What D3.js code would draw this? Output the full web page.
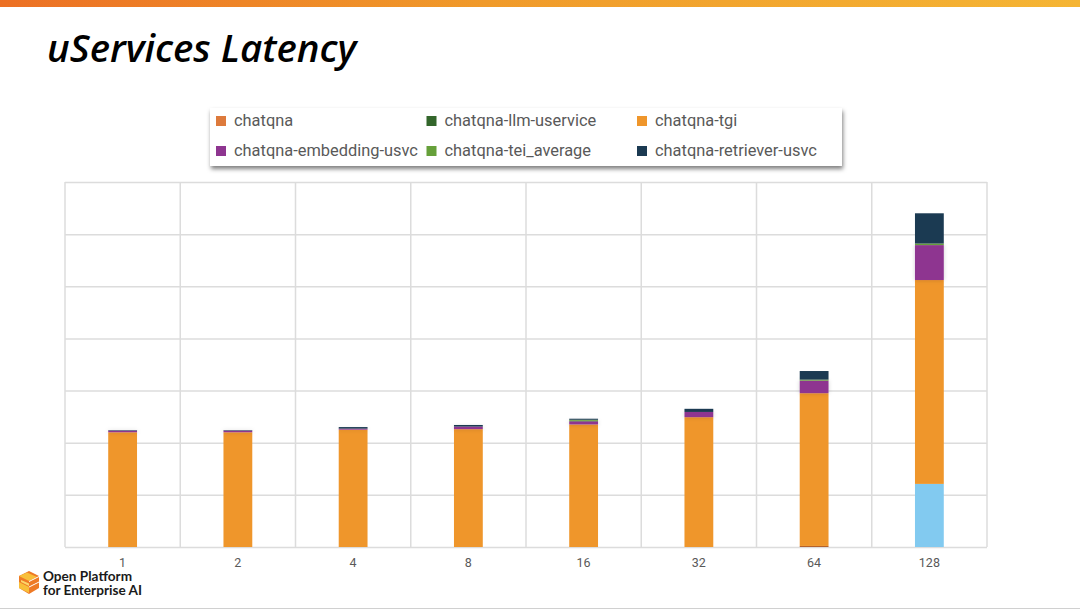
<!DOCTYPE html>
<meta charset="utf-8">
<style>
html, body { margin: 0; padding: 0; background: #fff; }
svg { display: block; }
.grid line, .grid path { stroke: #dcdcdc; stroke-width: 1.5px; }
.xaxis path, .xaxis line { stroke: none; }
.xaxis text { font: 12.5px Roboto, sans-serif; fill: #595959; }
.legend text { font: 16.4px Roboto, sans-serif; fill: #595959; }
.title { font: italic 600 38.5px "Open Sans", sans-serif; fill: #000; }
.logo text { font: 700 13.6px Lato, sans-serif; fill: #1a1a1a; }
</style>
<body>
<script src="https://d3js.org/d3.v7.min.js"></script>
<script>

const categories = ["1", "2", "4", "8", "16", "32", "64", "128"];

const chatqna          = [0, 0, 0, 0, 0, 0, 0.02, 0];
const unlisted         = [0, 0, 0, 0, 0, 0, 0, 1.21];
const chatqnaTgi       = [2.2, 2.2, 2.25, 2.26, 2.35, 2.49, 2.93, 3.91];
const chatqnaEmbedding = [0.03, 0.03, 0.02, 0.05, 0.06, 0.1, 0.24, 0.67];
const chatqnaLlm       = [0, 0, 0, 0, 0.01, 0, 0, 0];
const chatqnaTei       = [0, 0, 0, 0, 0.02, 0, 0.02, 0.03];
const chatqnaRetriever = [0.01, 0.01, 0.03, 0.03, 0.02, 0.06, 0.165, 0.58];

const yTicks = [0, 1, 2, 3, 4, 5, 6, 7];

const legendNames = [
  "chatqna", "chatqna-llm-uservice", "chatqna-tgi",
  "chatqna-embedding-usvc", "chatqna-tei_average", "chatqna-retriever-usvc"
];
const legendColors = ["#dd7a3c", "#33662b", "#ef962b", "#8e3590", "#66a03a", "#1b3a52"];

const series = [
  {values: chatqna, color: "#b5622a"},
  {values: unlisted, color: "#82caf0"},
  {values: chatqnaTgi, color: "#ef962b"},
  {values: chatqnaEmbedding, color: "#8e3590", glow: true},
  {values: chatqnaLlm, color: "#33662b"},
  {values: chatqnaTei, color: "#66a03a"},
  {values: chatqnaRetriever, color: "#1b3a52"}
];

const width = 1080;
const height = 609;

const svg = d3.select("body").append("svg")
    .attr("width", width)
    .attr("height", height);

const defs = svg.append("defs");

const topGrad = defs.append("linearGradient").attr("id", "topbar");
topGrad.append("stop").attr("offset", "0%").attr("stop-color", "#ec7024");
topGrad.append("stop").attr("offset", "45%").attr("stop-color", "#f09a2a");
topGrad.append("stop").attr("offset", "100%").attr("stop-color", "#f5b534");

const legendShadow = defs.append("filter").attr("id", "legendShadow")
    .attr("x", "-5%").attr("y", "-20%").attr("width", "110%").attr("height", "150%");
legendShadow.append("feDropShadow")
    .attr("dx", 1).attr("dy", 3).attr("stdDeviation", 2)
    .attr("flood-color", "#000").attr("flood-opacity", 0.5);

const barGlow = defs.append("filter").attr("id", "barGlow")
    .attr("filterUnits", "userSpaceOnUse")
    .attr("x", 0).attr("y", 0).attr("width", width).attr("height", height);
barGlow.append("feDropShadow")
    .attr("dx", 0).attr("dy", 0).attr("stdDeviation", 2)
    .attr("flood-color", "#000").attr("flood-opacity", 0.18);

svg.append("rect")
    .attr("width", width).attr("height", 7)
    .attr("fill", "url(#topbar)");
svg.append("line")
    .attr("x1", 0).attr("x2", width).attr("y1", 608.5).attr("y2", 608.5)
    .attr("stroke", "#d0d0d0");

svg.append("text").attr("class", "title")
    .attr("x", 47).attr("y", 62)
    .text("uServices Latency");

// plot area
const plotLeft = 65, plotRight = 987, plotTop = 182, plotBottom = 547;

const x = d3.scaleBand().domain(categories).range([plotLeft, plotRight]);
const y = d3.scaleLinear().domain([0, 7]).range([plotBottom, plotTop]);

// horizontal grid
svg.append("g").attr("class", "grid")
    .attr("transform", `translate(${plotLeft},0)`)
    .call(d3.axisLeft(y).tickValues(yTicks).tickSize(-(plotRight - plotLeft)).tickFormat(""))
    .call(g => g.select(".domain").remove());

// vertical grid on band edges
svg.append("g").attr("class", "grid")
    .selectAll("line")
    .data(categories.concat("end"))
  .join("line")
    .attr("x1", d => d === "end" ? plotRight : x(d))
    .attr("x2", d => d === "end" ? plotRight : x(d))
    .attr("y1", plotTop).attr("y2", plotBottom);

// stacked bars
const barW = x.bandwidth() * 0.25;
categories.forEach((cat, i) => {
  let total = 0;
  series.forEach(s => {
    const v = s.values[i];
    if (!v) return;
    s.bars = s.bars || [];
    s.bars.push({cat: cat, y0: total, y1: total + v});
    total += v;
  });
});

series.forEach(s => {
  svg.append("g")
      .attr("filter", s.glow ? "url(#barGlow)" : null)
    .selectAll("rect")
    .data(s.bars || [])
    .join("rect")
      .attr("x", d => x(d.cat) + (x.bandwidth() - barW) / 2)
      .attr("width", barW)
      .attr("y", d => y(d.y1))
      .attr("height", d => y(d.y0) - y(d.y1))
      .attr("fill", s.color);
});

svg.append("g").attr("class", "xaxis")
    .attr("transform", `translate(0,${plotBottom})`)
    .call(d3.axisBottom(x).tickSize(0).tickPadding(11));

// legend
svg.append("rect")
    .attr("x", 210).attr("y", 108).attr("width", 632).attr("height", 58)
    .attr("fill", "#fff")
    .attr("filter", "url(#legendShadow)");

const legendX = d3.scalePoint().domain([0, 1, 2]).range([216, 637]);
const legendY = d3.scalePoint().domain([0, 1]).range([121, 151]);

const legend = svg.append("g").attr("class", "legend")
  .selectAll("g")
  .data(legendNames)
  .join("g")
    .attr("transform", (d, i) => `translate(${legendX(i % 3)},${legendY(Math.floor(i / 3))})`);

legend.append("rect")
    .attr("y", -5).attr("width", 10).attr("height", 10)
    .attr("fill", (d, i) => legendColors[i]);

legend.append("text")
    .attr("x", 18).attr("dy", "0.33em")
    .text(d => d);

// logo
const logo = svg.append("g").attr("class", "logo");
const cube = logo.append("g").attr("transform", "translate(19,571)");
cube.append("path").attr("fill", "#ee7a26")
    .attr("d", "M0 5 L10 0 L20 5 L20 17 L10 23 L0 17 Z");
cube.append("path").attr("fill", "#f8bf3a")
    .attr("d", "M0 5 L8 1.5 L18 6 L10 10 Z M0 11 L10 16 L10 22 L0 17 Z");
cube.append("path").attr("fill", "#fbd76a")
    .attr("d", "M2 9 L10 12.5 L10 15 L2 11 Z");
cube.append("path").attr("fill", "#fff")
    .attr("d", "M10 10 L20 5 L20 6 L10 11 Z M10 15.5 L20 10.5 L20 11.5 L10 16.5 Z");

logo.append("text").attr("x", 43).attr("y", 581).text("Open Platform");
logo.append("text").attr("x", 43).attr("y", 595).text("for Enterprise AI");

</script>
</body>
